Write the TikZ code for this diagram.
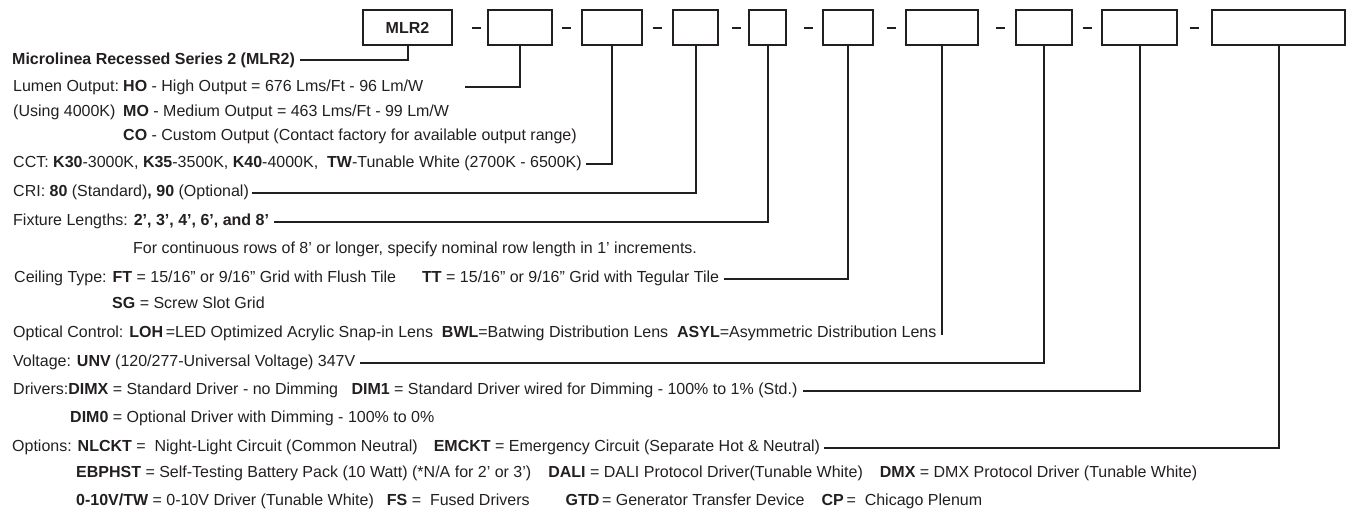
\documentclass[tikz,border=0pt]{standalone}
\usepackage{fontspec}
\setmainfont{Liberation Sans}
\definecolor{ink}{HTML}{231F20}
\newcommand\B[1]{\textbf{#1}}
\newcommand\fs{\fontsize{16}{19}\selectfont}
\begin{document}
\begin{tikzpicture}[x=1pt,y=-1pt,
  codebox/.style={draw=ink,line width=2.2pt,minimum height=35pt,inner sep=0pt,font=\fs\bfseries,text=ink},
  txt/.style={anchor=base west,inner sep=0pt,text=ink,font=\fs},
  conn/.style={draw=ink,line width=2pt},
  dsh/.style={draw=ink,line width=2.4pt}]
\useasboundingbox (0,0) rectangle (1353,512);
% code boxes
\node[codebox,minimum width=89pt] (b1) at (407.5,27.5) {MLR2};
\node[codebox,minimum width=64pt] (b2) at (520,27.5) {};
\node[codebox,minimum width=60pt] (b3) at (612,27.5) {};
\node[codebox,minimum width=45pt] (b4) at (695.5,27.5) {};
\node[codebox,minimum width=37pt] (b5) at (767.5,27.5) {};
\node[codebox,minimum width=50pt] (b6) at (848,27.5) {};
\node[codebox,minimum width=72pt] (b7) at (942,27.5) {};
\node[codebox,minimum width=56pt] (b8) at (1044,27.5) {};
\node[codebox,minimum width=75pt] (b9) at (1139.5,27.5) {};
\node[codebox,minimum width=133pt] (b10) at (1278.5,27.5) {};
% dashes
\foreach \x in {476,566,657,736,808,891,1000,1087,1194}
  \draw[dsh] (\x-4.5,28) -- (\x+4.5,28);
% texts
\node[txt] (title) at (12,64) {\B{Microlinea Recessed Series 2 (MLR2)}};
\node[txt] (lum) at (13,91) {\makebox[110pt][l]{Lumen Output:}\B{HO} - High Output = 676 Lms/Ft - 96 Lm/W};
\node[txt] (mo) at (13,116) {\makebox[110pt][l]{(Using 4000K)}\B{MO} - Medium Output = 463 Lms/Ft - 99 Lm/W};
\node[txt] (co) at (123,140.5) {\B{CO} - Custom Output (Contact factory for available output range)};
\node[txt] (cct) at (13,167) {CCT: \B{K30}-3000K, \B{K35}-3500K, \B{K40}-4000K, \ \B{TW}-Tunable White (2700K - 6500K)};
\node[txt] (cri) at (13,196.5) {CRI: \B{80} (Standard)\B{, 90} (Optional)};
\node[txt] (fix) at (13,225.5) {Fixture Lengths: \B{2’, 3’, 4’, 6’, and 8’}};
\node[txt] (cont) at (133,253) {For continuous rows of 8’ or longer, specify nominal row length in 1’ increments.};
\node[txt] (ceil) at (14,282.5) {Ceiling Type: \B{FT} = 15/16” or 9/16” Grid with Flush Tile};
\node[txt] (tt) at (422,282.5) {\B{TT} = 15/16” or 9/16” Grid with Tegular Tile};
\node[txt] (sg) at (112,308) {\B{SG} = Screw Slot Grid};
\node[txt] (opt) at (13,337.5) {Optical Control: \B{LOH}\,=LED Optimized Acrylic Snap-in Lens \ \B{BWL}=Batwing Distribution Lens \ \B{ASYL}=Asymmetric Distribution Lens};
\node[txt] (volt) at (13,366.5) {Voltage: \B{UNV} (120/277-Universal Voltage) 347V};
\node[txt] (drv) at (13,394.5) {Drivers:\B{DIMX} = Standard Driver - no Dimming \ \ \B{DIM1} = Standard Driver wired for Dimming - 100\% to 1\% (Std.)};
\node[txt] (dim0) at (70,422) {\B{DIM0} = Optional Driver with Dimming - 100\% to 0\%};
\node[txt] (opts) at (12,451.5) {Options: \B{NLCKT} = \ Night-Light Circuit (Common Neutral)\hspace{16pt}\B{EMCKT} = Emergency Circuit (Separate Hot \& Neutral)};
\node[txt] (ebp) at (76,477.5) {\B{EBPHST} = Self-Testing Battery Pack (10 Watt) (*N/A for 2’ or 3’)\hspace{17pt}\B{DALI} = DALI Protocol Driver(Tunable White)\hspace{17pt}\B{DMX} = DMX Protocol Driver (Tunable White)};
\node[txt] (ten) at (76,505) {\B{0-10V/TW} = 0-10V Driver (Tunable White)\hspace{13pt}\B{FS} = \ Fused Drivers\hspace{36pt}\B{GTD}\,= Generator Transfer Device\hspace{17pt}\B{CP}\,= \ Chicago Plenum};
% connectors
\draw[conn] (b1.south) |- ([xshift=5pt,yshift=4pt]title.base east);
\draw[conn] (b2.south) |- ([xshift=41pt,yshift=4pt]lum.base east);
\draw[conn] (b3.south) |- ([xshift=4pt,yshift=3pt]cct.base east);
\draw[conn] (b4.south) |- ([xshift=3pt,yshift=3.5pt]cri.base east);
\draw[conn] (b5.south) |- ([xshift=5pt,yshift=3.5pt]fix.base east);
\draw[conn] (b6.south) |- ([xshift=5pt,yshift=3.5pt]tt.base east);
\draw[conn] (b7.south) |- ([xshift=4pt,yshift=3.5pt]opt.base east);
\draw[conn] (b8.south) |- ([xshift=4pt,yshift=3.5pt]volt.base east);
\draw[conn] (b9.south) |- ([xshift=5pt,yshift=3.5pt]drv.base east);
\draw[conn] (b10.south) |- ([xshift=4pt,yshift=3.5pt]opts.base east);
\end{tikzpicture}
\end{document}
